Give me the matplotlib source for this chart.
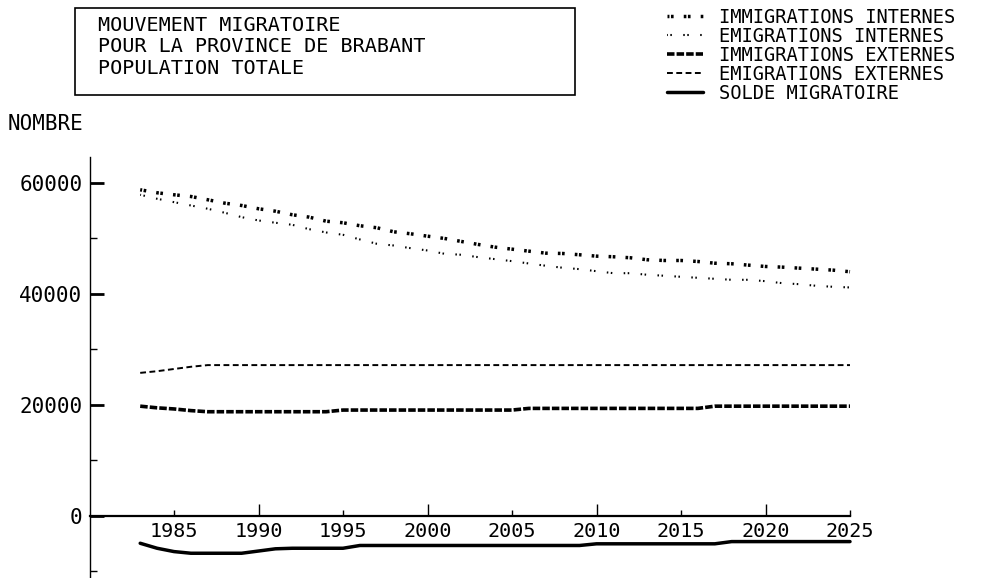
import matplotlib
matplotlib.use("Agg")
import matplotlib.pyplot as plt
from matplotlib.patches import Rectangle
import numpy as np

plt.rcParams['font.family'] = ['DejaVu Sans Mono']
plt.rcParams['lines.scale_dashes'] = False

# --- donnees ---
years = list(range(1983, 2026))

imm_int = [58690, 58150, 57790, 57480, 56890, 56280, 55860, 55270, 54830, 54190,
           53760, 53030, 52750, 52210, 51850, 51120, 50760, 50330, 49920, 49380,
           48840, 48350, 47990, 47630, 47270, 47210, 46980, 46730, 46620, 46440,
           46080, 45950, 45950, 45770, 45460, 45360, 45110, 44870, 44750, 44570,
           44390, 44210, 43920]
em_int = [57790, 57070, 56460, 55860, 55270, 54550, 53760, 53160, 52750, 52380,
          51590, 51000, 50580, 49740, 48960, 48650, 48170, 47750, 47160, 46980,
          46550, 46190, 45830, 45410, 45000, 44640, 44390, 44020, 43660, 43660,
          43380, 43200, 43010, 42830, 42650, 42470, 42470, 42220, 41860, 41680,
          41390, 41210, 41090]
imm_ext = [19700, 19400, 19200, 18900, 18700, 18700, 18700, 18700, 18700, 18700,
           18700, 18700, 19000, 19000, 19000, 19000, 19000, 19000, 19000, 19000,
           19000, 19000, 19000, 19300, 19300, 19300, 19300, 19300, 19300, 19300,
           19300, 19300, 19300, 19300, 19700, 19700, 19700, 19700, 19700, 19700,
           19700, 19700, 19700]
em_ext = [25700, 26000, 26400, 26800, 27100, 27100, 27100, 27100, 27100, 27100,
          27100, 27100, 27100, 27100, 27100, 27100, 27100, 27100, 27100, 27100,
          27100, 27100, 27100, 27100, 27100, 27100, 27100, 27100, 27100, 27100,
          27100, 27100, 27100, 27100, 27100, 27100, 27100, 27100, 27100, 27100,
          27100, 27100, 27100]
solde = [-5000, -5900, -6500, -6800, -6800, -6800, -6800, -6400, -6000, -5900,
         -5900, -5900, -5900, -5400, -5400, -5400, -5400, -5400, -5400, -5400,
         -5400, -5400, -5400, -5400, -5400, -5400, -5400, -5100, -5100, -5100,
         -5100, -5100, -5100, -5100, -5100, -4700, -4700, -4700, -4700, -4700,
         -4700, -4700, -4700]

labels = ["IMMIGRATIONS INTERNES", "EMIGRATIONS INTERNES", "IMMIGRATIONS EXTERNES",
          "EMIGRATIONS EXTERNES", "SOLDE MIGRATOIRE"]
title_lines = ["MOUVEMENT MIGRATOIRE", "POUR LA PROVINCE DE BRABANT", "POPULATION TOTALE"]

x_major = [1990, 2000, 2010, 2020]
x_minor = [1985, 1995, 2005, 2015, 2025]
y_major = [0, 20000, 40000, 60000]
y_minor = [-10000, 10000, 30000, 50000]

W, H = 996, 578
fig = plt.figure(figsize=(W / 100, H / 100), dpi=100)
ax = fig.add_axes([89.5 / W, 0, 845 / W, (H - 156.7) / H])

ax.plot(years, imm_int, color='black', lw=2.5, linestyle=(0.5, (1.9, 1.1, 1.9, 7.3)),
        label=labels[0])
ax.plot(years, em_int, color='black', lw=1.5, linestyle=(0.5, (1.1, 1.8, 1.1, 8.2)),
        label=labels[1])
ax.plot(years, imm_ext, color='black', lw=2.6, linestyle=(0, (5.4, 1.5)),
        label=labels[2])
ax.plot(years, em_ext, color='black', lw=1.4, linestyle=(0, (4.2, 2.5)),
        label=labels[3])
ax.plot(years, solde, color='black', lw=2.5, solid_capstyle='round', label=labels[4])

ax.set_xlim(1980, 2030)
ax.set_ylim(-11260, 64650)

for s in ['top', 'right']:
    ax.spines[s].set_visible(False)
ax.spines['bottom'].set_position(('data', 0))
ax.spines['bottom'].set_bounds(1980, 2025)
ax.spines['bottom'].set_linewidth(1.6)
ax.spines['left'].set_linewidth(1.0)

ax.set_xticks(x_major, [str(v) for v in x_major])
ax.set_xticks(x_minor, [str(v) for v in x_minor], minor=True)
ax.set_yticks(y_major, [str(v) for v in y_major])
ax.set_yticks(y_minor, minor=True)

ax.tick_params(axis='x', which='major', direction='in', length=8.5, width=1.0,
               labelsize=14.5, pad=5)
ax.tick_params(axis='x', which='minor', direction='in', length=4.5, width=1.0,
               labelsize=14.5, pad=5)
ax.tick_params(axis='y', which='major', direction='in', length=10, width=2.0,
               labelsize=15, pad=5)
ax.tick_params(axis='y', which='minor', direction='in', length=5, width=1.0)

# cadre du titre
fig.patches.append(Rectangle((75 / W, 1 - 95 / H), 500 / W, 87 / H,
                             transform=fig.transFigure, fill=False,
                             edgecolor='black', lw=1.2))
fig.text(98 / W, 1 - 16 / H, "\n".join(title_lines), fontsize=14.5,
         ha='left', va='top', linespacing=1.15)

fig.text(8 / W, 1 - 124 / H, "NOMBRE", fontsize=15, ha='left', va='center')

ax.legend(loc='upper left', bbox_to_anchor=(667 / W, 1 - 8 / H),
          bbox_transform=fig.transFigure, frameon=False, fontsize=13.5,
          borderpad=0, borderaxespad=0, handlelength=1.9, handletextpad=0.85,
          labelspacing=0.0)

fig.savefig("out.png", dpi=100)
